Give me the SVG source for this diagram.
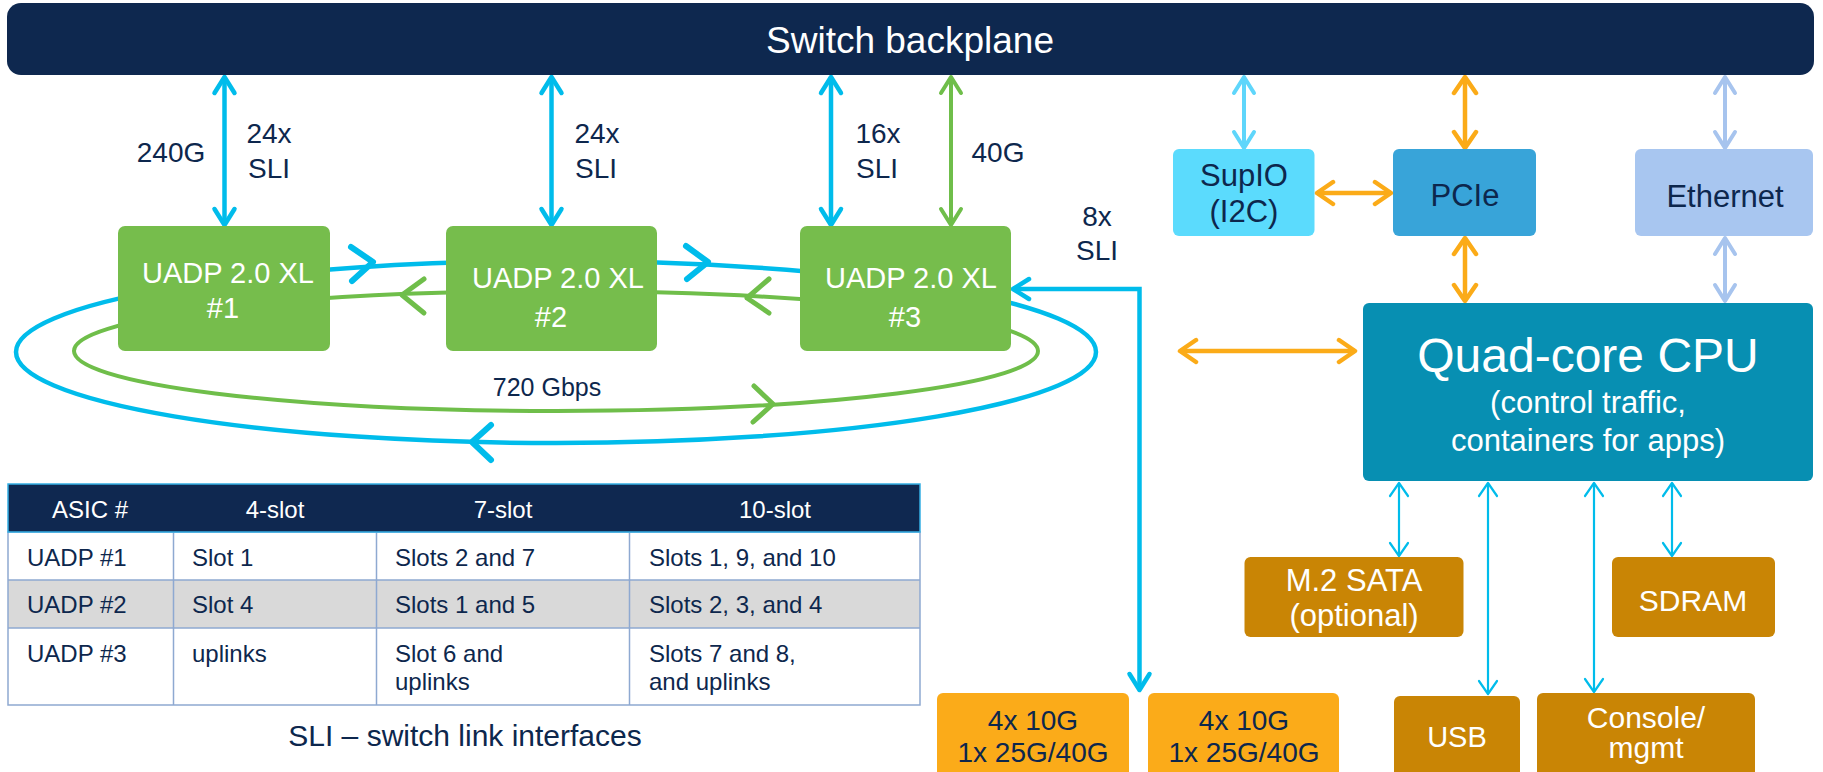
<svg xmlns="http://www.w3.org/2000/svg" width="1823" height="772" viewBox="0 0 1823 772">
<defs>
<style>
text{font-family:"Liberation Sans",Arial,sans-serif;}
.w{fill:#ffffff}
.d{fill:#0d274d}
.m{text-anchor:middle}
.sli{stroke:#00bceb;stroke-width:4.5;fill:none}
.grn{stroke:#6fbe4a;stroke-width:4;fill:none}
.cy{stroke:#5fd6fb;stroke-width:4;fill:none}
.or{stroke:#fbab18;stroke-width:4.5;fill:none}
.lb{stroke:#a7c4ee;stroke-width:4;fill:none}
.thin{stroke:#00bceb;stroke-width:2.2;fill:none}
.chev{fill:none;stroke-linecap:round;stroke-linejoin:round}
.cell{fill:none;stroke:#8ea9d1;stroke-width:1.5}
.tt{font-size:24px}
.lab{font-size:28px}
</style>
<marker id="aB" viewBox="-22 -14 26 28" markerWidth="26" markerHeight="28" refX="0" refY="0" markerUnits="userSpaceOnUse" orient="auto-start-reverse"><path d="M-16,-10L0,0L-16,10" fill="none" stroke="#00bceb" stroke-width="4.5" stroke-linecap="round" stroke-linejoin="round"/></marker>
<marker id="aG" viewBox="-22 -14 26 28" markerWidth="26" markerHeight="28" refX="0" refY="0" markerUnits="userSpaceOnUse" orient="auto-start-reverse"><path d="M-16,-10L0,0L-16,10" fill="none" stroke="#6fbe4a" stroke-width="4" stroke-linecap="round" stroke-linejoin="round"/></marker>
<marker id="aC" viewBox="-22 -14 26 28" markerWidth="26" markerHeight="28" refX="0" refY="0" markerUnits="userSpaceOnUse" orient="auto-start-reverse"><path d="M-16,-10L0,0L-16,10" fill="none" stroke="#5fd6fb" stroke-width="4" stroke-linecap="round" stroke-linejoin="round"/></marker>
<marker id="aO" viewBox="-22 -14 26 28" markerWidth="26" markerHeight="28" refX="0" refY="0" markerUnits="userSpaceOnUse" orient="auto-start-reverse"><path d="M-16,-11L0,0L-16,11" fill="none" stroke="#fbab18" stroke-width="4.5" stroke-linecap="round" stroke-linejoin="round"/></marker>
<marker id="aL" viewBox="-22 -14 26 28" markerWidth="26" markerHeight="28" refX="0" refY="0" markerUnits="userSpaceOnUse" orient="auto-start-reverse"><path d="M-16,-10L0,0L-16,10" fill="none" stroke="#a7c4ee" stroke-width="4" stroke-linecap="round" stroke-linejoin="round"/></marker>
<marker id="aT" viewBox="-18 -12 22 24" markerWidth="22" markerHeight="24" refX="0" refY="0" markerUnits="userSpaceOnUse" orient="auto-start-reverse"><path d="M-13,-9L0,0L-13,9" fill="none" stroke="#00bceb" stroke-width="2.2" stroke-linecap="round" stroke-linejoin="round"/></marker>
</defs>

<rect width="1823" height="772" fill="#ffffff"/>

<g id="connectors">
  <ellipse cx="556" cy="352" rx="540" ry="91" class="sli" stroke-width="4.8"/>
  <ellipse cx="556" cy="351" rx="482" ry="60" class="grn" stroke-width="4.2"/>
  <path class="chev" stroke="#00bceb" stroke-width="6" d="M351,247L373,262L352,281"/>
  <path class="chev" stroke="#00bceb" stroke-width="6" d="M686,246L708,262L687,279"/>
  <path class="chev" stroke="#6fbe4a" stroke-width="5" d="M424,279L402,295L424,313"/>
  <path class="chev" stroke="#6fbe4a" stroke-width="5" d="M769,279L747,298L769,313"/>
  <path class="chev" stroke="#00bceb" stroke-width="6" d="M491,425L472,442L491,460"/>
  <path class="chev" stroke="#6fbe4a" stroke-width="5" d="M754,386L773,404L753,422"/>

  <path class="sli" d="M224.5,77V225" marker-start="url(#aB)" marker-end="url(#aB)"/>
  <path class="sli" d="M551.5,77V225" marker-start="url(#aB)" marker-end="url(#aB)"/>
  <path class="sli" d="M831,77V225" marker-start="url(#aB)" marker-end="url(#aB)"/>
  <path class="grn" d="M951,77V225" marker-start="url(#aG)" marker-end="url(#aG)"/>
  <path class="sli" d="M1139.5,690V289H1013" marker-start="url(#aB)" marker-end="url(#aB)"/>

  <path class="cy" d="M1244,77V148" marker-start="url(#aC)" marker-end="url(#aC)"/>
  <path class="or" d="M1465,77V148" marker-start="url(#aO)" marker-end="url(#aO)"/>
  <path class="lb" d="M1725,77V148" marker-start="url(#aL)" marker-end="url(#aL)"/>
  <path class="or" d="M1317,193H1391" marker-start="url(#aO)" marker-end="url(#aO)"/>
  <path class="or" d="M1465,238V301" marker-start="url(#aO)" marker-end="url(#aO)"/>
  <path class="lb" d="M1725,238V301" marker-start="url(#aL)" marker-end="url(#aL)"/>
  <path class="or" d="M1180,351H1355" marker-start="url(#aO)" marker-end="url(#aO)"/>

  <path class="thin" d="M1399,483V556" marker-start="url(#aT)" marker-end="url(#aT)"/>
  <path class="thin" d="M1488,483V694" marker-start="url(#aT)" marker-end="url(#aT)"/>
  <path class="thin" d="M1594,483V692" marker-start="url(#aT)" marker-end="url(#aT)"/>
  <path class="thin" d="M1672,483V556" marker-start="url(#aT)" marker-end="url(#aT)"/>
</g>

<g id="labels" class="d lab">
  <text class="m" x="171" y="162">240G</text>
  <text class="m" x="269" y="143">24x</text>
  <text class="m" x="269" y="178">SLI</text>
  <text class="m" x="597" y="143">24x</text>
  <text class="m" x="596" y="178">SLI</text>
  <text class="m" x="878" y="143">16x</text>
  <text class="m" x="877" y="178">SLI</text>
  <text class="m" x="998" y="162">40G</text>
  <text class="m" x="1097" y="226">8x</text>
  <text class="m" x="1097" y="260">SLI</text>
  <text class="m" x="547" y="396" style="font-size:25px">720 Gbps</text>
</g>

<g id="backplane">
  <rect x="7" y="3" width="1807" height="72" rx="14" fill="#0e284f"/>
  <text class="w m" x="910" y="53" style="font-size:37px">Switch backplane</text>
</g>

<g id="uadp1">
  <rect x="118" y="226" width="212" height="125" rx="7" fill="#76bd4c"/>
  <text class="w m" x="228" y="283" style="font-size:29px">UADP 2.0 XL</text>
  <text class="w m" x="223" y="318" style="font-size:29px">#1</text>
</g>
<g id="uadp2">
  <rect x="446" y="226" width="211" height="125" rx="7" fill="#76bd4c"/>
  <text class="w m" x="558" y="288" style="font-size:29px">UADP 2.0 XL</text>
  <text class="w m" x="551" y="327" style="font-size:29px">#2</text>
</g>
<g id="uadp3">
  <rect x="800" y="226" width="211" height="125" rx="7" fill="#76bd4c"/>
  <text class="w m" x="911" y="288" style="font-size:29px">UADP 2.0 XL</text>
  <text class="w m" x="905" y="327" style="font-size:29px">#3</text>
</g>

<g id="supio">
  <rect x="1173" y="149" width="141.5" height="87" rx="6" fill="#5bdbfd"/>
  <text class="d m" x="1244" y="186" style="font-size:31px">SupIO</text>
  <text class="d m" x="1244" y="222" style="font-size:31px">(I2C)</text>
</g>
<g id="pcie">
  <rect x="1393" y="149" width="143" height="87" rx="6" fill="#38a4d9"/>
  <text class="d m" x="1465" y="206" style="font-size:31px">PCIe</text>
</g>
<g id="ethernet">
  <rect x="1635" y="149" width="178" height="87" rx="6" fill="#a8c6f0"/>
  <text class="d m" x="1725" y="207" style="font-size:31px">Ethernet</text>
</g>
<g id="cpu">
  <rect x="1363" y="303" width="450" height="178" rx="6" fill="#078fb2"/>
  <text class="w m" x="1588" y="372" style="font-size:48px">Quad-core CPU</text>
  <text class="w m" x="1588" y="413" style="font-size:31px">(control traffic,</text>
  <text class="w m" x="1588" y="451" style="font-size:31px">containers for apps)</text>
</g>
<g id="m2sata">
  <rect x="1244.5" y="557" width="219" height="80" rx="6" fill="#c98505"/>
  <text class="w m" x="1354" y="591" style="font-size:31px">M.2 SATA</text>
  <text class="w m" x="1354" y="626" style="font-size:31px">(optional)</text>
</g>
<g id="sdram">
  <rect x="1612" y="557" width="163" height="80" rx="6" fill="#c98505"/>
  <text class="w m" x="1693" y="611" style="font-size:30px">SDRAM</text>
</g>
<g id="usb">
  <rect x="1394" y="696" width="126" height="95" rx="6" fill="#c98505"/>
  <text class="w m" x="1457" y="747" style="font-size:29px">USB</text>
</g>
<g id="console">
  <rect x="1537" y="693" width="218" height="98" rx="6" fill="#c98505"/>
  <text class="w m" x="1646" y="728" style="font-size:30px">Console/</text>
  <text class="w m" x="1646" y="758" style="font-size:30px">mgmt</text>
</g>
<g id="port1">
  <rect x="937" y="693" width="192" height="98" rx="6" fill="#fbab19"/>
  <text class="d m" x="1033" y="730" style="font-size:28px">4x 10G</text>
  <text class="d m" x="1033" y="762" style="font-size:28px">1x 25G/40G</text>
</g>
<g id="port2">
  <rect x="1148" y="693" width="191" height="98" rx="6" fill="#fbab19"/>
  <text class="d m" x="1244" y="730" style="font-size:28px">4x 10G</text>
  <text class="d m" x="1244" y="762" style="font-size:28px">1x 25G/40G</text>
</g>

<g id="table">
  <rect x="8" y="532" width="912" height="48" fill="#ffffff"/>
  <rect x="8" y="580" width="912" height="48" fill="#d9d9d9"/>
  <rect x="8" y="628" width="912" height="77" fill="#ffffff"/>
  <rect x="8" y="532" width="912" height="173" class="cell"/>
  <path class="cell" d="M8,580H920M8,628H920M173.5,532V705M376.5,532V705M629.5,532V705"/>
  <rect x="8" y="484" width="912" height="48" fill="#0f2850" stroke="#35aee3" stroke-width="1.5"/>
  <g class="w m tt">
    <text x="90" y="518">ASIC #</text>
    <text x="275" y="518">4-slot</text>
    <text x="503" y="518">7-slot</text>
    <text x="775" y="518">10-slot</text>
  </g>
  <g class="d tt">
    <text x="27" y="566">UADP #1</text>
    <text x="192" y="566">Slot 1</text>
    <text x="395" y="566">Slots 2 and 7</text>
    <text x="649" y="566">Slots 1, 9, and 10</text>
    <text x="27" y="613">UADP #2</text>
    <text x="192" y="613">Slot 4</text>
    <text x="395" y="613">Slots 1 and 5</text>
    <text x="649" y="613">Slots 2, 3, and 4</text>
    <text x="27" y="662">UADP #3</text>
    <text x="192" y="662">uplinks</text>
    <text x="395" y="662">Slot 6 and</text>
    <text x="395" y="690">uplinks</text>
    <text x="649" y="662">Slots 7 and 8,</text>
    <text x="649" y="690">and uplinks</text>
  </g>
</g>

<g id="caption">
  <text class="d m" x="465" y="746" style="font-size:30px">SLI – switch link interfaces</text>
</g>
</svg>
